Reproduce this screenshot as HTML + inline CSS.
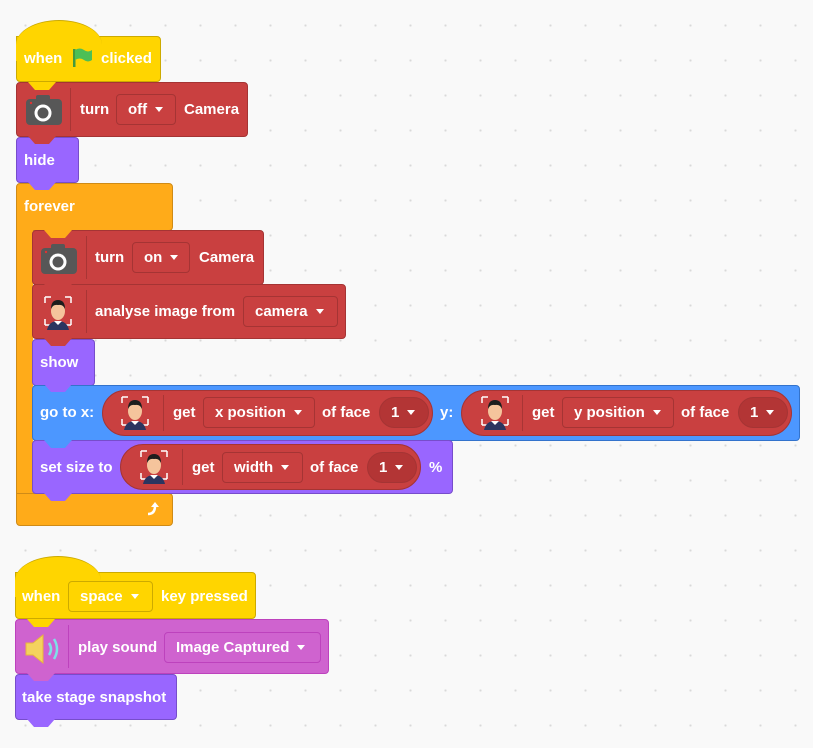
<!DOCTYPE html>
<html><head><style>
body{margin:0;width:813px;height:748px;overflow:hidden;background-color:#f9f9f9;background-image:radial-gradient(#d9d9d9 1px,transparent 1.2px);background-size:35px 35px;background-position:8px 8px;font-family:"Liberation Sans",sans-serif;font-weight:bold;font-size:15px;color:#fff}
.b{position:absolute;border-radius:4px;box-sizing:border-box}
.t{position:absolute;white-space:nowrap;line-height:16px}
.dd{position:absolute;border-radius:4px;box-sizing:border-box;display:flex;align-items:center;padding-left:11px;white-space:nowrap}
.dd:after{content:"";border-left:4.5px solid transparent;border-right:4.5px solid transparent;border-top:5px solid #fff;margin-left:8px}
.tab{position:absolute;width:28px;height:8px;clip-path:polygon(0 0,100% 0,75% 100%,25% 100%)}
.r{position:absolute;border-radius:24px;box-sizing:border-box;background:#c94040;border:1px solid #a53434}
.sep{position:absolute;width:1px;background:#a83535}
</style></head><body>

<!-- script 1 -->
<div class="b" style="left:16px;top:36px;width:145px;height:46px;background:#ffd500;border:1px solid #ccaa00;border-top-left-radius:0"></div>
<div style="position:absolute;left:16px;top:20px;width:86px;height:40px;border-radius:50% 50% 0 0/60% 60% 0 0;background:#ffd500;border-top:1px solid #ccaa00"></div>
<div class="t" style="left:24px;top:51px">when</div>
<svg style="position:absolute;left:72px;top:47px" width="22" height="22"><rect x="1" y="2" width="2.5" height="18" fill="#45993d"/><path d="M3 3 Q8 0 12 3 T20 3 V13 Q16 16 12 13 T3 13Z" fill="#4cbf56"/></svg>
<div class="t" style="left:101px;top:51px">clicked</div>

<div class="b" style="left:16px;top:82px;width:232px;height:55px;background:#c94040;border:1px solid #a53434"></div>
<svg style="position:absolute;left:24px;top:94px" width="40" height="34"><rect x="2" y="5" width="36" height="26" rx="4" fill="#575757"/><rect x="12" y="1" width="14" height="6" rx="2" fill="#575757"/><circle cx="19" cy="19" r="7" fill="none" stroke="#fff" stroke-width="3"/><circle cx="7" cy="9" r="1.2" fill="#d33"/></svg>
<div class="sep" style="left:70px;top:88px;height:43px"></div>
<div class="t" style="left:80px;top:102px">turn</div>
<div class="dd" style="left:116px;top:94px;width:60px;height:31px;border:1px solid #a53434">off</div>
<div class="t" style="left:184px;top:102px">Camera</div>
<div class="tab" style="left:28px;top:82px;background:#ffd500"></div>

<div class="b" style="left:16px;top:137px;width:63px;height:46px;background:#9966ff;border:1px solid #774dcb"></div>
<div class="t" style="left:24px;top:153px">hide</div>
<div class="tab" style="left:28px;top:136px;background:#c94040"></div>

<!-- forever -->
<div class="b" style="left:16px;top:183px;width:157px;height:48px;background:#ffab19;border:1px solid #cf8b17;border-bottom-left-radius:0"></div>
<div style="position:absolute;left:16px;top:225px;width:17px;height:280px;background:#ffab19;border-left:1px solid #cf8b17;box-sizing:border-box"></div>
<div class="b" style="left:16px;top:493px;width:157px;height:33px;background:#ffab19;border:1px solid #cf8b17;border-top-left-radius:0"></div>
<div class="t" style="left:24px;top:199px">forever</div>
<svg style="position:absolute;left:144px;top:500px" width="18" height="18"><path d="M4 14 Q11 14 11 6" fill="none" stroke="#fff" stroke-width="2.5"/><path d="M7 7 L11 2 L15 7Z" fill="#fff"/></svg>
<div class="tab" style="left:28px;top:182px;background:#9966ff"></div>

<div class="b" style="left:32px;top:230px;width:232px;height:55px;background:#c94040;border:1px solid #a53434"></div>
<svg style="position:absolute;left:39px;top:243px" width="40" height="34"><rect x="2" y="5" width="36" height="26" rx="4" fill="#575757"/><rect x="12" y="1" width="14" height="6" rx="2" fill="#575757"/><circle cx="19" cy="19" r="7" fill="none" stroke="#fff" stroke-width="3"/><circle cx="7" cy="9" r="1.2" fill="#d33"/></svg>
<div class="sep" style="left:86px;top:236px;height:43px"></div>
<div class="t" style="left:95px;top:250px">turn</div>
<div class="dd" style="left:132px;top:242px;width:58px;height:31px;border:1px solid #a53434">on</div>
<div class="t" style="left:199px;top:250px">Camera</div>
<div class="tab" style="left:44px;top:230px;background:#ffab19"></div>

<svg width="0" height="0" style="position:absolute"><defs><g id="face"><path d="M2 1h6M2 1v6M28 1h-6M28 1v6M2 29v-6M2 29h6M28 29v-6M28 29h-6" stroke="#fff" stroke-width="1.5" fill="none"/><path d="M4 34 Q6 25 15 25 Q24 25 26 34Z" fill="#2c3560"/><path d="M11 25 L15 29 L19 25Z" fill="#fff"/><ellipse cx="15" cy="15" rx="7" ry="9" fill="#f5c49c"/><path d="M8 13 Q8 4 15 4 Q22 4 22 13 Q20 8 15 9 Q10 8 8 13Z" fill="#1d1d1d"/></g></defs></svg>

<div class="b" style="left:32px;top:284px;width:314px;height:55px;background:#c94040;border:1px solid #a53434"></div>
<svg style="position:absolute;left:43px;top:296px" width="30" height="34"><use href="#face"/></svg>
<div class="sep" style="left:86px;top:290px;height:43px"></div>
<div class="t" style="left:95px;top:304px">analyse image from</div>
<div class="dd" style="left:243px;top:296px;width:95px;height:31px;border:1px solid #a53434">camera</div>
<div class="tab" style="left:44px;top:284px;background:#c94040"></div>

<div class="b" style="left:32px;top:339px;width:63px;height:47px;background:#9966ff;border:1px solid #774dcb"></div>
<div class="t" style="left:40px;top:355px">show</div>
<div class="tab" style="left:44px;top:338px;background:#c94040"></div>

<div class="b" style="left:32px;top:385px;width:768px;height:56px;background:#4c97ff;border:1px solid #3373cc"></div>
<div class="t" style="left:40px;top:405px">go to x:</div>
<div class="r" style="left:102px;top:390px;width:331px;height:46px"></div>
<svg style="position:absolute;left:120px;top:396px" width="30" height="34"><use href="#face"/></svg>
<div class="sep" style="left:163px;top:395px;height:36px"></div>
<div class="t" style="left:173px;top:405px">get</div>
<div class="dd" style="left:203px;top:397px;width:112px;height:31px;border:1px solid #a53434">x position</div>
<div class="t" style="left:322px;top:405px">of face</div>
<div class="dd" style="left:379px;top:397px;width:50px;height:31px;border-radius:16px;background:#b33535;border:1px solid #a53434">1</div>
<div class="t" style="left:440px;top:405px">y:</div>
<div class="r" style="left:461px;top:390px;width:331px;height:46px"></div>
<svg style="position:absolute;left:480px;top:396px" width="30" height="34"><use href="#face"/></svg>
<div class="sep" style="left:522px;top:395px;height:36px"></div>
<div class="t" style="left:532px;top:405px">get</div>
<div class="dd" style="left:562px;top:397px;width:112px;height:31px;border:1px solid #a53434">y position</div>
<div class="t" style="left:681px;top:405px">of face</div>
<div class="dd" style="left:738px;top:397px;width:50px;height:31px;border-radius:16px;background:#b33535;border:1px solid #a53434">1</div>
<div class="tab" style="left:44px;top:384px;background:#9966ff"></div>

<div class="b" style="left:32px;top:440px;width:421px;height:54px;background:#9966ff;border:1px solid #774dcb"></div>
<div class="t" style="left:40px;top:460px">set size to</div>
<div class="r" style="left:120px;top:444px;width:301px;height:46px"></div>
<svg style="position:absolute;left:139px;top:450px" width="30" height="34"><use href="#face"/></svg>
<div class="sep" style="left:182px;top:449px;height:36px"></div>
<div class="t" style="left:192px;top:460px">get</div>
<div class="dd" style="left:222px;top:452px;width:81px;height:31px;border:1px solid #a53434">width</div>
<div class="t" style="left:310px;top:460px">of face</div>
<div class="dd" style="left:367px;top:452px;width:50px;height:31px;border-radius:16px;background:#b33535;border:1px solid #a53434">1</div>
<div class="t" style="left:429px;top:460px">%</div>
<div class="tab" style="left:44px;top:440px;background:#4c97ff"></div>
<div class="tab" style="left:44px;top:493px;background:#9966ff"></div>

<!-- script 2 -->
<div class="b" style="left:15px;top:572px;width:241px;height:47px;background:#ffd500;border:1px solid #ccaa00;border-top-left-radius:0"></div>
<div style="position:absolute;left:15px;top:556px;width:86px;height:40px;border-radius:50% 50% 0 0/60% 60% 0 0;background:#ffd500;border-top:1px solid #ccaa00"></div>
<div class="t" style="left:22px;top:589px">when</div>
<div class="dd" style="left:68px;top:581px;width:85px;height:31px;border:1px solid #ccaa00">space</div>
<div class="t" style="left:161px;top:589px">key pressed</div>

<div class="b" style="left:15px;top:619px;width:314px;height:55px;background:#cf63cf;border:1px solid #bd42bd"></div>
<svg style="position:absolute;left:22px;top:633px" width="40" height="32"><path d="M4 10h7l10-8v28l-10-8H4Z" fill="#f4d35e" stroke="#e8b53c" stroke-width="1"/><path d="M27 10 Q31 16 27 22" stroke="#7ee0e8" stroke-width="2.5" fill="none"/><path d="M32 6 Q38 16 32 26" stroke="#7ee0e8" stroke-width="2.5" fill="none"/></svg>
<div class="sep" style="left:68px;top:625px;height:43px;background:#bd42bd"></div>
<div class="t" style="left:78px;top:640px">play sound</div>
<div class="dd" style="left:164px;top:632px;width:157px;height:31px;border:1px solid #bd42bd">Image Captured</div>
<div class="tab" style="left:27px;top:619px;background:#ffd500"></div>

<div class="b" style="left:15px;top:674px;width:162px;height:46px;background:#9966ff;border:1px solid #774dcb"></div>
<div class="t" style="left:22px;top:690px">take stage snapshot</div>
<div class="tab" style="left:27px;top:673px;background:#cf63cf"></div>
<div class="tab" style="left:27px;top:719px;background:#9966ff"></div>
</body></html>
